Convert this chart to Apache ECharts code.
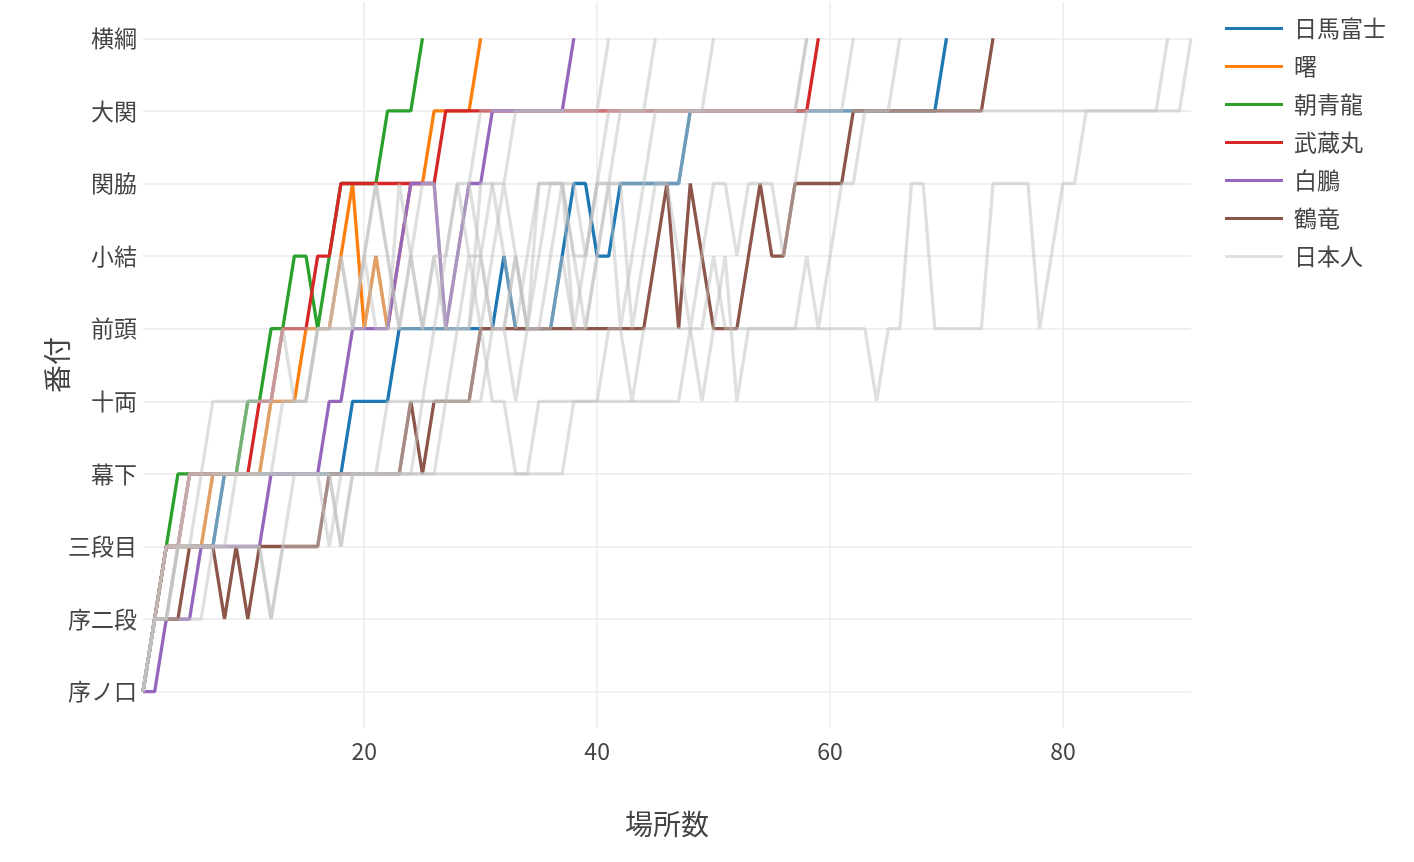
<!DOCTYPE html>
<html>
<head>
<meta charset="utf-8">
<script src="https://cdn.jsdelivr.net/npm/echarts@6/dist/echarts.min.js"></script>
<style>html,body{margin:0;padding:0;background:#fff}#c{width:1414px;height:862px}</style>
</head>
<body>
<div id="c"></div>
<script>
// 番付 categories (index 0 = 序ノ口 … 9 = 横綱)
const ranks = ['序ノ口','序二段','三段目','幕下','十両','前頭','小結','関脇','大関','横綱'];
const xTicks = [20, 40, 60, 80];

// rank index per 場所 (場所数 = position + 1)
const harumafuji = [0,1,2,2,2,2,2,3,3,3, 3,3,3,3,3,3,3,3,4,4, 4,4,5,5,5,5,5,5,5,5, 5,6,5,5,5,5,6,7,7,6, 6,7,7,7,7,7,7,8,8,8, 8,8,8,8,8,8,8,8,8,8, 8,8,8,8,8,8,8,8,8,9];
const akebono = [0,1,2,2,2,2,3,3,3,3, 3,4,4,4,5,5,5,6,7,5, 6,5,6,7,7,8,8,8,8,9];
const asashoryu = [0,1,2,3,3,3,3,3,3,4, 4,5,5,6,6,5,6,7,7,7, 7,8,8,8,9];
const musashimaru = [0,1,2,2,3,3,3,3,3,3, 4,4,5,5,5,6,6,7,7,7, 7,7,7,7,7,7,8,8,8,8, 8,8,8,8,8,8,8,8,8,8, 8,8,8,8,8,8,8,8,8,8, 8,8,8,8,8,8,8,8,9];
const hakuho = [0,0,1,1,1,2,2,2,2,2, 2,3,3,3,3,3,4,4,5,5, 5,5,6,7,7,7,5,6,7,7, 8,8,8,8,8,8,8,9];
const kakuryu = [0,1,1,1,2,2,2,1,2,1, 2,2,2,2,2,2,3,3,3,3, 3,3,3,4,3,4,4,4,4,5, 5,5,5,5,5,5,5,5,5,5, 5,5,5,5,6,7,5,7,6,5, 5,5,6,7,6,6,7,7,7,7, 7,8,8,8,8,8,8,8,8,8, 8,8,8,9];

// 日本人横綱 (grey lines)
const jp1 = [0,1,2,2,3,3,3,3,3,4, 4,4,5,5,5,5,5,5,5,6, 5,5,5,6,7,7,5,6,7,8, 8,8,8,8,8,8,8,8,8,8, 9];
const jp2 = [0,1,1,2,2,2,3,3,3,3, 3,3,3,3,3,3,2,3,3,3, 3,4,4,4,4,5,5,5,6,5, 6,7,6,5,6,7,7,7,6,7, 7,8,8,8,9];
const jp3 = [0,1,1,2,2,2,2,2,2,2, 2,1,2,3,3,3,3,3,3,3, 3,3,3,4,4,4,4,5,5,6, 5,5,6,5,5,6,7,6,5,6, 7,7,7,7,8,8,8,8,8,9];
const jp4 = [0,1,2,2,2,3,3,3,3,3, 3,3,4,4,4,5,5,6,5,6, 7,6,5,5,5,6,5,5,5,7, 7,6,5,6,7,7,7,5,6,7, 8,8,8,8,8,8,8,8,8,8, 8,8,8,8,8,8,8,9];
const jp5 = [0,1,1,2,2,2,2,3,3,3, 3,3,3,3,3,3,3,3,3,3, 3,3,3,3,3,3,4,4,4,4, 5,5,4,5,5,5,6,5,5,6, 7,5,6,7,7,7,7,8,8,8, 8,8,8,8,8,8,8,9];
const jp6 = [0,1,2,2,3,3,3,3,3,3, 3,4,5,4,4,5,5,6,5,5, 6,5,7,6,5,5,6,7,6,6, 7,7,8,8,8,8,8,8,8,8, 8,8,8,8,8,8,8,8,8,8, 8,8,8,8,8,8,8,8,8,8, 8,9];
const jp7 = [0,1,1,2,2,2,2,2,3,3, 3,3,3,3,3,3,3,2,3,3, 3,3,3,3,4,4,4,4,4,5, 4,4,3,3,4,4,4,4,4,4, 4,4,4,4,4,4,4,5,5,6, 5,5,5,5,5,5,5,6,5,6, 7,7,8,8,8,9];
const jp8 = [0,1,2,2,3,3,4,4,4,4, 4,4,4,4,4,5,5,5,5,6, 7,6,5,6,5,6,6,7,7,6, 5,5,6,5,7,7,7,6,6,7, 7,7,5,6,7,7,6,5,6,7, 7,6,7,7,7,6,7,8,8,8, 8,8,8,8,8,8,8,8,8,8, 8,8,8,8,8,8,8,8,8,8, 8,8,8,8,8,8,8,8,9];
const jp9 = [0,1,1,1,1,1,2,2,2,2, 2,1,2,2,2,2,3,2,3,3, 3,3,3,3,3,3,3,3,3,3, 3,3,3,3,3,3,3,4,4,4, 5,5,4,5,5,5,5,5,4,5, 6,4,5,5,5,5,5,5,5,5, 5,5,5,4,5,5,7,7,5,5, 5,5,5,7,7,7,7,5,6,7, 7,8,8,8,8,8,8,8,8,8, 9];

const names = ['日馬富士','曙','朝青龍','武蔵丸','白鵬','鶴竜'];
const colors = ['#1f77b4','#ff7f0e','#2ca02c','#d62728','#9467bd','#8c564b'];
const careers = [harumafuji, akebono, asashoryu, musashimaru, hakuho, kakuryu];
const japanese = [jp1, jp2, jp3, jp4, jp5, jp6, jp7, jp8, jp9];
const grey = 'rgba(192,192,192,0.5)';

function toPts(arr){ return arr.map((v,i)=>[i+1,v]); }

const series = careers.map((arr,k)=>({
  name: names[k], type:'line', data: toPts(arr), showSymbol:false, symbol:'none',
  lineStyle:{width:3.3,color:colors[k]}, itemStyle:{color:colors[k]}, z:2, animation:false
}));
japanese.forEach(arr=>series.push({
  name:'日本人', type:'line', data: toPts(arr), showSymbol:false, symbol:'none',
  lineStyle:{width:3.3,color:grey}, itemStyle:{color:'#e0e0e0'}, z:3, animation:false
}));

const chart = echarts.init(document.getElementById('c'), null, {renderer:'canvas'});
chart.setOption({
  backgroundColor:'#fff',
  animation:false,
  textStyle:{fontFamily:'"Noto Sans CJK JP","Open Sans",sans-serif'},
  grid:{left:143, right:223, top:2, bottom:134, containLabel:false},
  legend:{
    orient:'vertical', left:1220, top:12, icon:'rect', itemWidth:58, itemHeight:3, itemGap:15,
    data: names.concat(['日本人']),
    textStyle:{fontSize:23, color:'#444', padding:[0,0,0,6]}
  },
  xAxis:{
    type:'value', min:1, max:91,
    name:'場所数', nameLocation:'middle', nameGap:82, nameMoveOverlap:false,
    nameTextStyle:{fontSize:28, color:'#444'},
    axisLine:{show:false}, axisTick:{show:false, customValues:xTicks},
    axisLabel:{customValues:xTicks, fontSize:23, color:'#444', margin:12},
    splitLine:{show:true, lineStyle:{color:'#ebebeb', width:1.5}}
  },
  yAxis:{
    type:'value', min:-0.5, max:9.5,
    name:'番付', nameLocation:'middle', nameGap:72, nameRotate:90, nameMoveOverlap:false,
    nameTextStyle:{fontSize:28, color:'#444'},
    axisLine:{show:false}, axisTick:{show:false, customValues:[0,1,2,3,4,5,6,7,8,9]},
    axisLabel:{customValues:[0,1,2,3,4,5,6,7,8,9], fontSize:23, color:'#444', margin:6,
      formatter:v=>ranks[Math.round(v)]},
    splitLine:{show:true, lineStyle:{color:'#ebebeb', width:1.5}}
  },
  series: series
});
</script>
</body>
</html>
